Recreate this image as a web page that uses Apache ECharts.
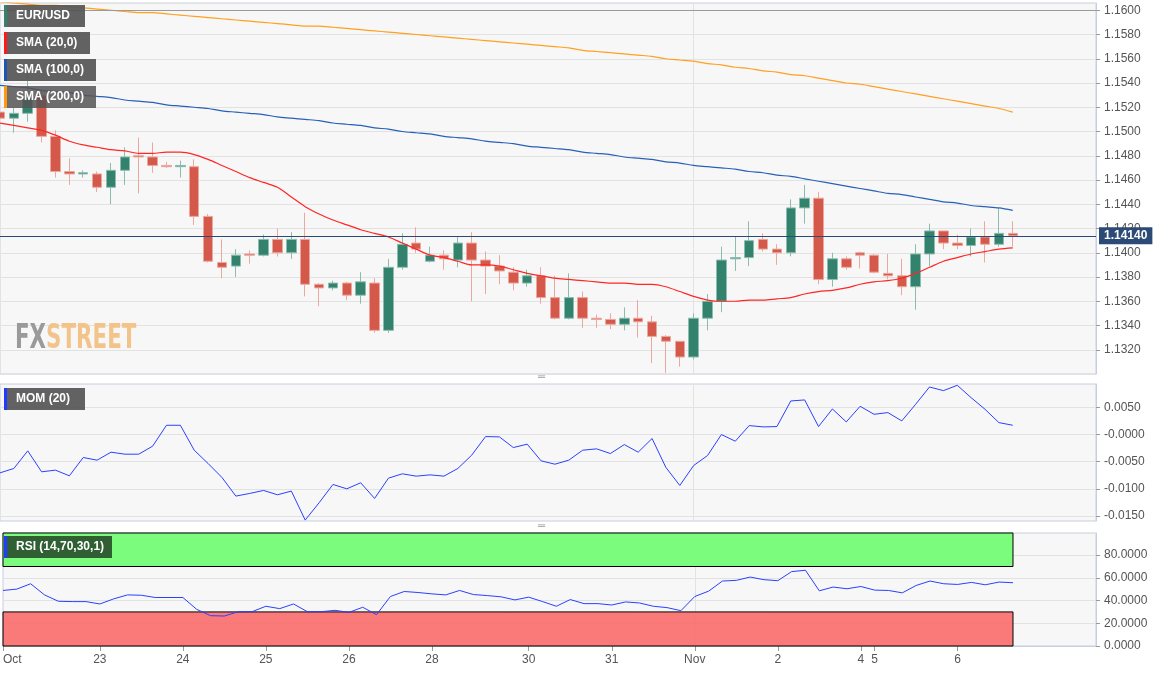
<!DOCTYPE html>
<html>
<head>
<meta charset="utf-8">
<script src="https://cdn.jsdelivr.net/npm/echarts@6/dist/echarts.min.js"></script>
<style>
html,body{margin:0;padding:0;background:#fff;}
#chart{width:1167px;height:673px;}
</style>
</head>
<body>
<div id="chart"></div>
<script>
// 4H candles, [open, high, low, close]
var candles = [
  [1.1516,1.1518,1.1509,1.1511],[1.1511,1.1520,1.1499,1.1515],[1.1515,1.1548,1.1508,1.1528],[1.1530,1.1534,1.1491,1.1496],
  [1.1496,1.1501,1.1462,1.1467],[1.1467,1.1478,1.1456,1.1465],[1.1465,1.1468,1.1462,1.1466],[1.1465,1.1467,1.1450,1.1454],
  [1.1454,1.1474,1.1440,1.1468],[1.1468,1.1487,1.1456,1.1479],[1.1480,1.1495,1.1449,1.1479],[1.1479,1.1491,1.1466,1.1472],
  [1.1472,1.1475,1.1470,1.1471],[1.1471,1.1476,1.1462,1.1472],[1.1471,1.1477,1.1423,1.1430],[1.1430,1.1432,1.1392,1.1393],
  [1.1392,1.1411,1.1379,1.1388],[1.1389,1.1403,1.1380,1.1398],[1.1399,1.1402,1.1391,1.1398],[1.1398,1.1415,1.1397,1.1411],
  [1.1411,1.1420,1.1397,1.1400],[1.1400,1.1417,1.1395,1.1411],[1.1411,1.1433,1.1364,1.1374],[1.1374,1.1375,1.1356,1.1371],
  [1.1371,1.1377,1.1369,1.1375],[1.1375,1.1376,1.1361,1.1365],[1.1365,1.1384,1.1358,1.1376],[1.1375,1.1379,1.1334,1.1336],
  [1.1336,1.1395,1.1334,1.1388],[1.1388,1.1416,1.1386,1.1407],[1.1408,1.1421,1.1400,1.1403],[1.1393,1.1405,1.1392,1.1398],
  [1.1398,1.1402,1.1386,1.1395],[1.1394,1.1413,1.1388,1.1408],[1.1408,1.1417,1.1360,1.1394],[1.1394,1.1401,1.1366,1.1389],
  [1.1389,1.1398,1.1374,1.1385],[1.1384,1.1388,1.1369,1.1375],[1.1375,1.1386,1.1372,1.1381],[1.1381,1.1388,1.1358,1.1363],
  [1.1363,1.1381,1.1345,1.1346],[1.1346,1.1383,1.1345,1.1363],[1.1363,1.1368,1.1338,1.1346],[1.1346,1.1349,1.1338,1.1345],
  [1.1345,1.1350,1.1337,1.1341],[1.1341,1.1355,1.1336,1.1346],[1.1346,1.1361,1.1330,1.1343],[1.1343,1.1348,1.1309,1.1331],
  [1.1331,1.1332,1.1301,1.1327],[1.1327,1.1327,1.1306,1.1314],[1.1314,1.1350,1.1312,1.1346],[1.1346,1.1366,1.1336,1.1360],
  [1.1360,1.1405,1.1351,1.1394],[1.1395,1.1413,1.1385,1.1396],[1.1396,1.1426,1.1389,1.1410],[1.1411,1.1416,1.1401,1.1403],
  [1.1403,1.1407,1.1390,1.1400],[1.1400,1.1444,1.1397,1.1437],[1.1437,1.1456,1.1424,1.1445],[1.1445,1.1450,1.1374,1.1378],
  [1.1378,1.1400,1.1372,1.1395],[1.1395,1.1397,1.1386,1.1388],[1.1400,1.1401,1.1387,1.1398],[1.1398,1.1399,1.1383,1.1384],
  [1.1383,1.1399,1.1378,1.1381],[1.1381,1.1395,1.1365,1.1372],[1.1372,1.1407,1.1353,1.1399],[1.1399,1.1424,1.1389,1.1418],
  [1.1418,1.1418,1.1403,1.1408],[1.1408,1.1415,1.1403,1.1406],[1.1406,1.1420,1.1397,1.1413],[1.1413,1.1426,1.1392,1.1407],
  [1.1407,1.1437,1.1405,1.1416],[1.1416,1.1426,1.1405,1.1414]
];

var sma20 = [1.1507,1.1505,1.1503,1.1501,1.1497,1.1492,1.1489,1.1487,1.1485,1.1484,1.1482,1.1482,1.1483,1.1483,1.1481,1.1477,
  1.1472,1.1467,1.1462,1.1458,1.1454,1.1446,1.1438,1.1432,1.1427,1.1423,1.1419,1.1416,1.1413,1.1408,1.1403,1.1398,
  1.1396,1.1393,1.1390,1.1390,1.1389,1.1386,1.1383,1.1381,1.1379,1.1378,1.1377,1.1376,1.1375,1.1375,1.1374,1.1374,
  1.1372,1.1368,1.1364,1.1361,1.1360,1.1360,1.1361,1.1361,1.1362,1.1363,1.1366,1.1368,1.1369,1.1371,1.1374,1.1376,
  1.1377,1.1379,1.1383,1.1388,1.1393,1.1396,1.1399,1.1401,1.1403,1.1404];

var sma100 = [1.1538,1.1537,1.1536,1.1534,1.1533,1.1532,1.1530,1.1529,1.1528,1.1526,1.1525,1.1524,1.1522,1.1521,1.1520,1.1519,
  1.1517,1.1516,1.1515,1.1514,1.1512,1.1511,1.1510,1.1509,1.1507,1.1506,1.1505,1.1503,1.1502,1.1500,1.1499,1.1498,
  1.1496,1.1495,1.1494,1.1492,1.1491,1.1490,1.1488,1.1487,1.1486,1.1485,1.1483,1.1482,1.1481,1.1479,1.1478,1.1477,
  1.1475,1.1474,1.1472,1.1471,1.1470,1.1469,1.1467,1.1466,1.1464,1.1463,1.1461,1.1459,1.1457,1.1455,1.1453,1.1451,
  1.1449,1.1448,1.1446,1.1444,1.1442,1.1441,1.1439,1.1438,1.1437,1.1435];

var sma200 = [1.1607,1.1606,1.1605,1.1604,1.1604,1.1603,1.1602,1.1601,1.1600,1.1599,1.1598,1.1598,1.1597,1.1596,1.1595,1.1594,
  1.1593,1.1592,1.1591,1.1590,1.1589,1.1588,1.1587,1.1587,1.1586,1.1585,1.1584,1.1583,1.1582,1.1581,1.1580,1.1579,
  1.1578,1.1577,1.1576,1.1575,1.1574,1.1573,1.1572,1.1571,1.1570,1.1569,1.1567,1.1566,1.1565,1.1564,1.1563,1.1562,
  1.1560,1.1559,1.1558,1.1556,1.1555,1.1553,1.1552,1.1550,1.1549,1.1547,1.1546,1.1544,1.1542,1.1540,1.1539,1.1537,
  1.1535,1.1533,1.1531,1.1529,1.1527,1.1525,1.1523,1.1521,1.1519,1.1516];

var mom = [-0.00704,-0.00624,-0.00300,-0.00685,-0.00655,-0.00759,-0.00422,-0.00471,-0.00324,-0.00361,-0.00361,-0.00214,
  0.00171,0.00171,-0.00288,-0.00532,-0.00789,-0.01132,-0.01083,-0.01028,-0.01108,-0.01040,-0.01573,-0.01255,
  -0.00918,-0.00998,-0.00887,-0.01175,-0.00802,-0.00722,-0.00765,-0.00741,-0.00765,-0.00624,-0.00379,-0.00037,
  -0.00043,-0.00239,-0.00177,-0.00483,-0.00545,-0.00471,-0.00288,-0.00263,-0.00349,-0.00184,-0.00324,-0.00073,
  -0.00606,-0.00936,-0.00569,-0.00386,0.00000,-0.00122,0.00165,0.00141,0.00147,0.00618,0.00637,0.00147,
  0.00471,0.00233,0.00520,0.00373,0.00404,0.00251,0.00557,0.00875,0.00808,0.00906,0.00679,0.00465,0.00220,0.00171];

var rsi = [48.9,50.1,54.8,45.0,39.4,39.1,39.1,37.0,41.5,45.0,44.7,42.7,42.7,42.7,32.3,26.7,26.4,30.2,30.2,35.0,
  32.9,37.0,30.2,30.2,31.4,29.6,34.1,27.6,43.6,48.0,47.1,45.9,45.0,48.9,45.3,44.4,43.3,40.6,43.0,39.1,
  35.0,40.9,37.3,37.3,36.1,38.8,37.9,35.0,33.8,31.1,43.6,48.3,57.2,57.8,60.7,58.4,57.5,65.5,66.7,48.6,
  51.9,50.4,52.4,49.2,48.9,46.8,53.3,57.2,54.8,54.2,56.0,53.9,56.3,55.7];

var dayLabels = {0:'Oct',7:'23',13:'24',19:'25',25:'26',31:'28',38:'30',44:'31',50:'Nov',56:'2',62:'4',63:'5',69:'6'};
var slotCount = 80;
var lastPrice = 1.1414;

var categories = [];
for (var i = 0; i < slotCount; i++) categories.push(dayLabels[i] !== undefined ? dayLabels[i] : ' ' + i);
var ohlc = candles.map(function (c) { return [c[0], c[3], c[2], c[1]]; });

var gridBorder = '#c9cde0';
var labelStyle = { color: '#555', fontSize: 12, fontFamily: 'Arial, Liberation Sans' };

function xAxisFor(idx, showLabels) {
  return {
    type: 'category', gridIndex: idx, data: categories, boundaryGap: false,
    axisLine: { show: showLabels, lineStyle: { color: gridBorder } },
    axisTick: { show: showLabels, interval: function (i) { return dayLabels[i] !== undefined; }, lineStyle: { color: '#999' } },
    axisLabel: showLabels ? Object.assign({ interval: 0, alignMinLabel: 'left', formatter: function (v, i) { return dayLabels[i] || ''; } }, labelStyle) : { show: false },
    splitLine: { show: true, interval: function (i) { return i === 50; }, lineStyle: { color: '#e2e2e2' } }
  };
}

function tag(x, y, w, text, stripe, bg) {
  return [
    { type: 'rect', left: x, top: y, shape: { width: w, height: 22 }, style: { fill: bg }, z: 100 },
    { type: 'rect', left: x, top: y, shape: { width: 3, height: 22 }, style: { fill: stripe }, z: 101 },
    { type: 'text', left: x + 12, top: y + 5, style: { text: text, fill: '#fff', font: 'bold 12px Arial, Liberation Sans' }, z: 101 }
  ];
}

var chart = echarts.init(document.getElementById('chart'));
var option = {
  animation: false,
  backgroundColor: '#fff',
  grid: [
    { left: 0, right: 71, top: 3, height: 371, show: true, backgroundColor: '#f7f7f7', borderColor: gridBorder },
    { left: 0, right: 71, top: 384, height: 137, show: true, backgroundColor: '#f7f7f7', borderColor: gridBorder },
    { left: 0, right: 71, top: 533, height: 113, show: true, backgroundColor: '#f7f7f7', borderColor: gridBorder }
  ],
  xAxis: [xAxisFor(0, false), xAxisFor(1, false), xAxisFor(2, true)],
  yAxis: [
    { type: 'value', gridIndex: 0, position: 'right', min: 1.1300, max: 1.1606, interval: 0.002,
      axisLine: { show: true, lineStyle: { color: gridBorder } }, axisTick: { show: true, length: 4, lineStyle: { color: '#999' } },
      axisLabel: Object.assign({ showMaxLabel: false, showMinLabel: false, formatter: function (v) { return v.toFixed(4); } }, labelStyle),
      splitLine: { lineStyle: { color: '#e2e2e2' } } },
    { type: 'value', gridIndex: 1, position: 'right', min: -0.0159, max: 0.0093,
      axisLine: { show: true, lineStyle: { color: gridBorder } },
      axisTick: { show: true, length: 4, customValues: [-0.015, -0.01, -0.005, 0, 0.005], lineStyle: { color: '#999' } },
      axisLabel: Object.assign({ customValues: [-0.015, -0.01, -0.005, 0, 0.005], formatter: function (v) { return Math.abs(v) < 1e-9 ? '-0.0000' : v.toFixed(4); } }, labelStyle),
      splitLine: { lineStyle: { color: '#e2e2e2' } } },
    { type: 'value', gridIndex: 2, position: 'right', min: 0, max: 99.5, interval: 20,
      axisLine: { show: true, lineStyle: { color: gridBorder } }, axisTick: { show: true, length: 4, lineStyle: { color: '#999' } },
      axisLabel: Object.assign({ showMaxLabel: false, formatter: function (v) { return v.toFixed(4); } }, labelStyle),
      splitLine: { lineStyle: { color: '#e2e2e2' } } }
  ],
  series: [
    { type: 'candlestick', name: 'EUR/USD', xAxisIndex: 0, yAxisIndex: 0, data: ohlc, barWidth: 10,
      itemStyle: { color: '#33826d', color0: '#d5594a', borderColor: '#8cbcae', borderColor0: '#eaa89f', borderWidth: 1 } },
    { type: 'line', name: 'SMA (20,0)', xAxisIndex: 0, yAxisIndex: 0, data: sma20, showSymbol: false, smooth: 0.3, lineStyle: { color: '#ff2626', width: 1.2 },
      markLine: { symbol: 'none', silent: true, animation: false, precision: 5,
        data: [
          { yAxis: lastPrice, lineStyle: { color: '#2b4a75', width: 1, type: 'solid' },
            label: { position: 'end', formatter: '1.14140', color: '#fff', fontWeight: 'bold', fontSize: 12, backgroundColor: '#2b4a75', padding: [3, 5, 2, 5], distance: 3 } },
          { yAxis: 1.1600, lineStyle: { color: '#9a9a9a', width: 1, type: 'solid' }, label: { show: false } }
        ] } },
    { type: 'line', name: 'SMA (100,0)', xAxisIndex: 0, yAxisIndex: 0, data: sma100, showSymbol: false, smooth: 0.3, lineStyle: { color: '#2860b8', width: 1.2 } },
    { type: 'line', name: 'SMA (200,0)', xAxisIndex: 0, yAxisIndex: 0, data: sma200, showSymbol: false, smooth: 0.3, lineStyle: { color: '#ffa020', width: 1.2 } },
    { type: 'line', name: 'MOM (20)', xAxisIndex: 1, yAxisIndex: 1, data: mom, showSymbol: false, lineStyle: { color: '#2a40ff', width: 1 } },
    { type: 'line', name: 'RSI', xAxisIndex: 2, yAxisIndex: 2, data: rsi, showSymbol: false, z: 5, lineStyle: { color: '#2a40ff', width: 1 },
      markArea: { silent: true,
        data: [
          [{ xAxis: 0, yAxis: 70, itemStyle: { color: '#7cfc7c', borderColor: '#000', borderWidth: 1 } }, { xAxis: 73, yAxis: 99.5 }],
          [{ xAxis: 0, yAxis: 0, itemStyle: { color: 'rgba(250,110,110,0.92)', borderColor: '#000', borderWidth: 1 } }, { xAxis: 73, yAxis: 30 }]
        ] } }
  ],
  graphic: [].concat(
    tag(4, 5, 81, 'EUR/USD', '#33826d', 'rgba(85,85,85,0.92)'),
    tag(4, 32, 86, 'SMA (20,0)', '#ff1a1a', 'rgba(85,85,85,0.92)'),
    tag(4, 59, 92, 'SMA (100,0)', '#1f56b0', 'rgba(85,85,85,0.92)'),
    tag(4, 86, 92, 'SMA (200,0)', '#ff9a10', 'rgba(85,85,85,0.85)'),
    tag(4, 388, 81, 'MOM (20)', '#1f3cff', 'rgba(85,85,85,0.92)'),
    tag(4, 536, 108, 'RSI (14,70,30,1)', '#1f3cff', '#2f5f33'),
    [
      { type: 'text', x: 15, y: 323, scaleX: 0.72, z: 50,
        style: { text: '{a|FX}{b|STREET}', font: 'bold 33px "DejaVu Sans Condensed", Arial',
          rich: { a: { fill: '#9a9a9a', font: 'bold 33px "DejaVu Sans Condensed", Arial' },
                  b: { fill: '#f2c48a', font: 'bold 33px "DejaVu Sans Condensed", Arial' } } } },
      { type: 'text', left: 538, top: 372, style: { text: '═', fill: '#999', font: '10px Arial' }, z: 60 },
      { type: 'text', left: 538, top: 521, style: { text: '═', fill: '#999', font: '10px Arial' }, z: 60 }
    ]
  )
};
chart.setOption(option);
</script>
</body>
</html>
